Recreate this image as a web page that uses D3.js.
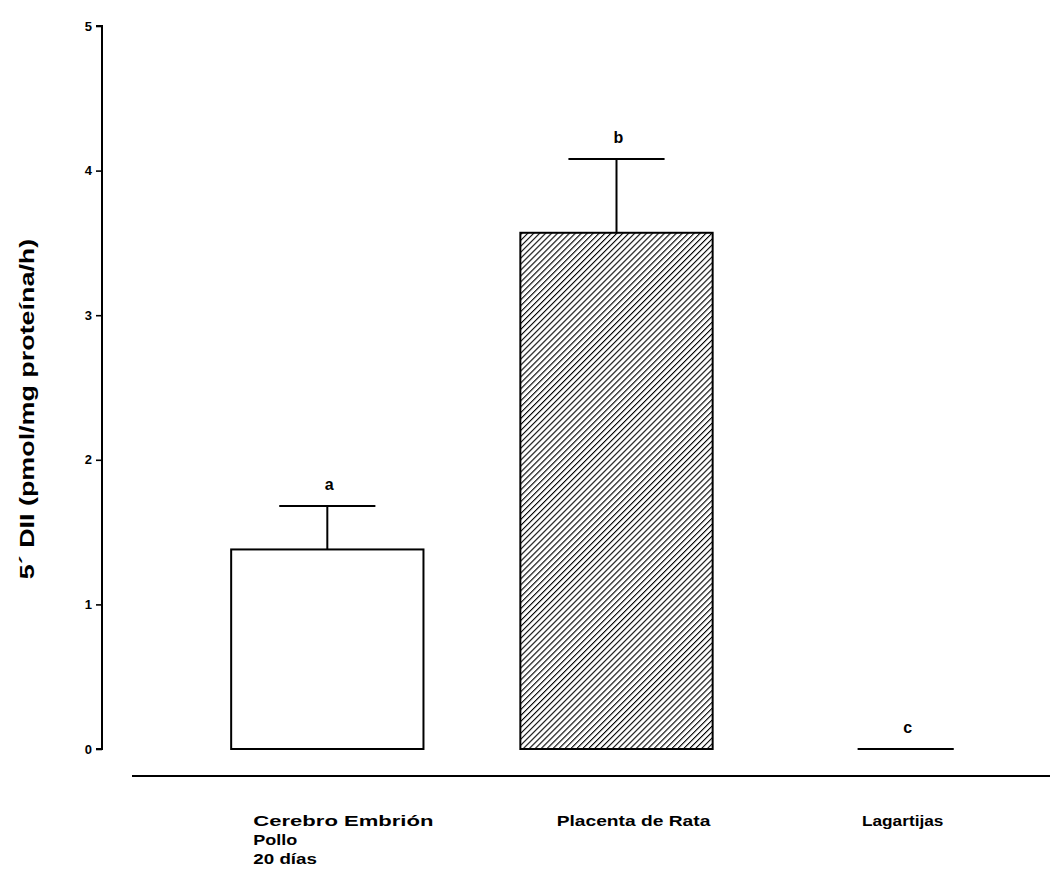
<!DOCTYPE html>
<html>
<head>
<meta charset="utf-8">
<script src="https://cdn.jsdelivr.net/npm/d3@7"></script>
<style>
  html, body { margin: 0; padding: 0; background: #fff; }
  svg { display: block; font-family: "Liberation Sans", Arial, sans-serif; }
</style>
</head>
<body>
<svg id="chart" width="1058" height="882"></svg>
<script>
// Activity of 5' deiodinase type II by tissue
const categories = ["Cerebro Embrión\nPollo\n20 días", "Placenta de Rata", "Lagartijas"];
const means = [1.38, 3.57, 0];
const errors = [0.30, 0.51, 0];
const letters = ["a", "b", "c"];
const fills = ["white", "hatch", "white"];
const yTicks = [0, 1, 2, 3, 4, 5];

// stretch text along its baseline by a factor
function widen(sel, k) {
  sel.each(function() {
    const w = this.getComputedTextLength();
    d3.select(this).attr("textLength", w * k).attr("lengthAdjust", "spacingAndGlyphs");
  });
}

const svg = d3.select("#chart");

const defs = svg.append("defs");
const pat = defs.append("pattern")
  .attr("id", "hatch")
  .attr("patternUnits", "userSpaceOnUse")
  .attr("width", 4.2).attr("height", 4.2)
  .attr("patternTransform", "rotate(45)");
pat.append("rect").attr("width", 4.2).attr("height", 4.2).attr("fill", "white");
pat.append("line")
  .attr("x1", 0).attr("y1", 0).attr("x2", 0).attr("y2", 4.2)
  .attr("stroke", "#000").attr("stroke-width", 2.2);

const y = d3.scaleLinear().domain([0, 5]).range([749, 26]);
const x = d3.scaleBand().domain(categories).range([182, 1051]).paddingInner(0.335).paddingOuter(0.17);

// y axis
const yAxis = d3.axisLeft(y).tickValues(yTicks).tickSize(6).tickPadding(4).tickFormat(d3.format("d"));
const gy = svg.append("g").attr("transform", "translate(102,0)").call(yAxis);
gy.select(".domain").attr("stroke", "#000").attr("stroke-width", 2).attr("d", "M-6,26H0V749H-6");
gy.selectAll(".tick line").attr("stroke", "#000").attr("stroke-width", 1.6);
gy.selectAll(".tick text").attr("font-size", 13).attr("font-weight", "bold").attr("fill", "#000")
  .attr("font-family", "'Liberation Sans', Arial, sans-serif");

// y axis title
svg.append("text")
  .attr("transform", "translate(34,409) rotate(-90)")
  .attr("text-anchor", "middle")
  .attr("font-size", 21).attr("font-weight", "bold")
  .text("5´ DII (pmol/mg proteína/h)")
  .call(widen, 1.28);

// baseline under the bars
svg.append("line")
  .attr("x1", 132).attr("x2", 1050).attr("y1", 776).attr("y2", 776)
  .attr("stroke", "#000").attr("stroke-width", 2);

const groups = svg.selectAll("g.bar").data(categories).enter().append("g").attr("class", "bar");

// bars
groups.filter((d, i) => means[i] > 0).append("rect")
  .attr("x", d => x(d))
  .attr("y", d => y(means[categories.indexOf(d)]))
  .attr("width", x.bandwidth())
  .attr("height", d => y(0) - y(means[categories.indexOf(d)]))
  .attr("fill", d => fills[categories.indexOf(d)] === "hatch" ? "url(#hatch)" : "white")
  .attr("stroke", "#000").attr("stroke-width", 2);

// error bars and significance letters
groups.each(function(d, i) {
  const g = d3.select(this);
  const cx = x(d) + x.bandwidth() / 2;
  const top = y(means[i] + errors[i]);
  const half = x.bandwidth() / 4;
  if (errors[i] > 0) {
    g.append("line").attr("x1", cx).attr("x2", cx)
      .attr("y1", y(means[i])).attr("y2", top)
      .attr("stroke", "#000").attr("stroke-width", 2);
  }
  g.append("line").attr("x1", cx - half).attr("x2", cx + half)
    .attr("y1", top).attr("y2", top)
    .attr("stroke", "#000").attr("stroke-width", 2);
  g.append("text")
    .attr("x", cx + 2).attr("y", top - 16)
    .attr("text-anchor", "middle")
    .attr("font-size", 16).attr("font-weight", "bold")
    .text(letters[i]);
});

// category labels: left-set under the first bar, centred-ish under the others
const labelSet = [
  { anchor: "start", dx: -74, widths: [1.47, 1.2, 1.25] },
  { anchor: "middle", dx: 17, widths: [1.28] },
  { anchor: "middle", dx: -3, widths: [1.15] }
];
groups.each(function(d, i) {
  const lines = d.split("\n");
  const cx = x(d) + x.bandwidth() / 2;
  const ls = labelSet[i];
  lines.forEach((ln, k) => {
    d3.select(this).append("text")
      .attr("font-size", 15).attr("font-weight", "bold")
      .attr("text-anchor", ls.anchor)
      .attr("x", cx + ls.dx)
      .attr("y", 826 + k * 19)
      .text(ln)
      .call(widen, ls.widths[k]);
  });
});
</script>
</body>
</html>
